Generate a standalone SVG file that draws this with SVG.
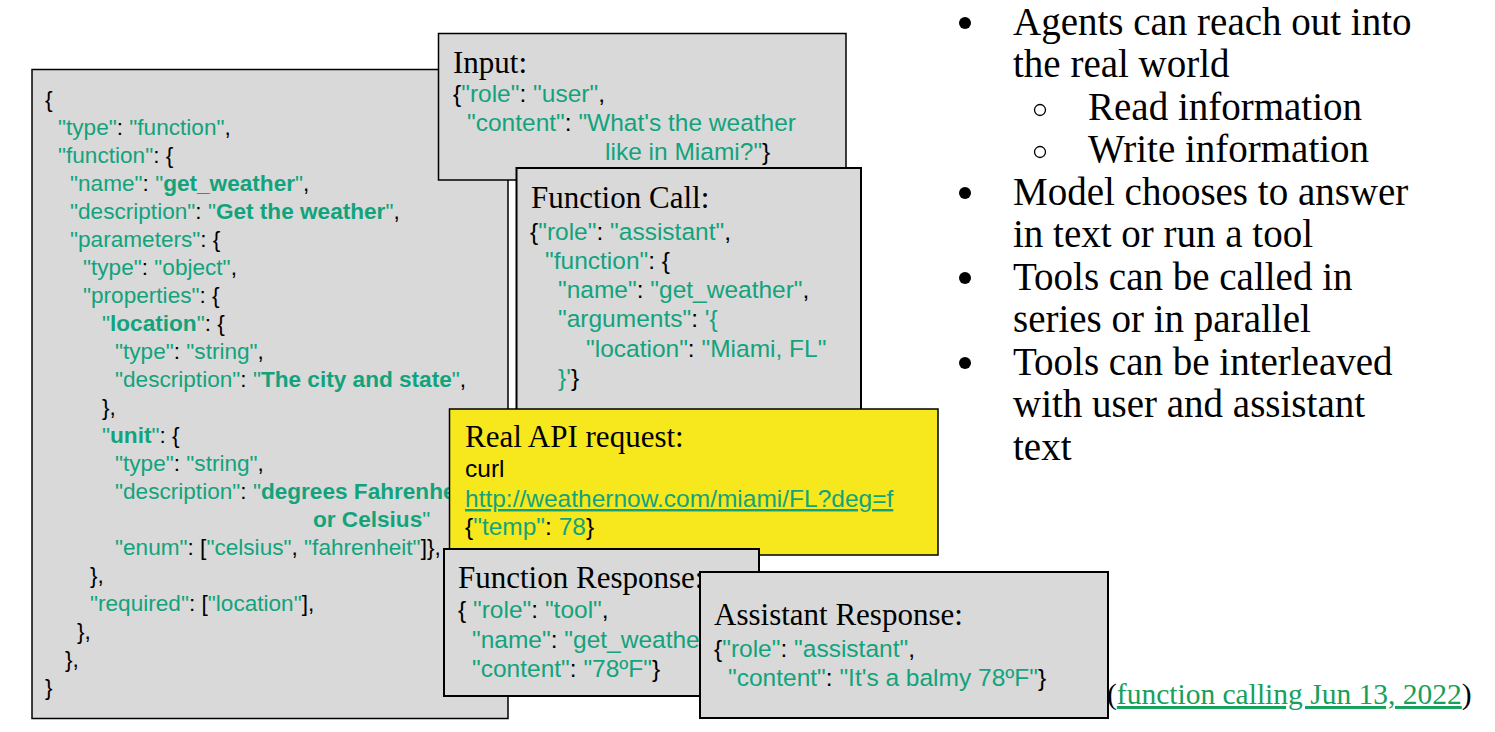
<svg xmlns="http://www.w3.org/2000/svg" width="1495" height="732" viewBox="0 0 1495 732">
<style>
.box{fill:#d9d9d9;stroke:#000;stroke-width:1.5}
.thick{stroke-width:2}
.yellow{fill:#f7e71d;stroke:#000;stroke-width:1.5}
.code{font-family:"Liberation Sans",Arial,sans-serif;fill:#000}
.big{font-size:22.6px}
.sm{font-size:24.5px}
.g{fill:#12a37c}
.b{font-weight:bold}
.title{font-family:"Liberation Serif","Times New Roman",serif;font-size:31px;fill:#000}
.bul{font-family:"Liberation Serif","Times New Roman",serif;font-size:39px;fill:#000}
.foot{font-family:"Liberation Serif","Times New Roman",serif;font-size:29.5px;fill:#000}
.link{fill:#16a05a;text-decoration:underline}
</style>
<defs>
<clipPath id="frClip"><rect x="444" y="549" width="256" height="147"/></clipPath>
</defs>
<rect width="1495" height="732" fill="#fff"/>

<g id="schema">
<rect class="box" x="32" y="69.5" width="476" height="649"/>
<text class="code big">
<tspan x="45" y="107">{</tspan>
<tspan x="58" y="135"><tspan class="g">"type"</tspan>: <tspan class="g">"function"</tspan>,</tspan>
<tspan x="58" y="163"><tspan class="g">"function"</tspan>: {</tspan>
<tspan x="70" y="191"><tspan class="g">"name"</tspan>: <tspan class="g">"<tspan class="b">get_weather</tspan>"</tspan>,</tspan>
<tspan x="70" y="219"><tspan class="g">"description"</tspan>: <tspan class="g">"<tspan class="b">Get the weather</tspan>"</tspan>,</tspan>
<tspan x="70" y="247"><tspan class="g">"parameters"</tspan>: {</tspan>
<tspan x="83" y="275"><tspan class="g">"type"</tspan>: <tspan class="g">"object"</tspan>,</tspan>
<tspan x="83" y="303"><tspan class="g">"properties"</tspan>: {</tspan>
<tspan x="102" y="331"><tspan class="g">"<tspan class="b">location</tspan>"</tspan>: {</tspan>
<tspan x="115" y="359"><tspan class="g">"type"</tspan>: <tspan class="g">"string"</tspan>,</tspan>
<tspan x="115" y="387"><tspan class="g">"description"</tspan>: <tspan class="g">"<tspan class="b">The city and state</tspan>"</tspan>,</tspan>
<tspan x="102" y="415">},</tspan>
<tspan x="102" y="443"><tspan class="g">"<tspan class="b">unit</tspan>"</tspan>: {</tspan>
<tspan x="115" y="471"><tspan class="g">"type"</tspan>: <tspan class="g">"string"</tspan>,</tspan>
<tspan x="115" y="499"><tspan class="g">"description"</tspan>: <tspan class="g">"<tspan class="b">degrees Fahrenheit</tspan></tspan></tspan>
<tspan x="313" y="527" class="g"><tspan class="b">or Celsius</tspan>"</tspan>
<tspan x="115" y="555"><tspan class="g">"enum"</tspan>: [<tspan class="g">"celsius"</tspan>, <tspan class="g">"fahrenheit"</tspan>]},</tspan>
<tspan x="90" y="583">},</tspan>
<tspan x="90" y="611"><tspan class="g">"required"</tspan>: [<tspan class="g">"location"</tspan>],</tspan>
<tspan x="77" y="639">},</tspan>
<tspan x="65" y="667">},</tspan>
<tspan x="45" y="695">}</tspan>
</text>
</g>

<g id="input">
<rect class="box" x="438.5" y="33.5" width="407.5" height="146.5"/>
<text class="title" x="453" y="73">Input:</text>
<text class="code sm">
<tspan x="453" y="102">{<tspan class="g">"role"</tspan>: <tspan class="g">"user"</tspan>,</tspan>
<tspan x="467" y="131"><tspan class="g">"content"</tspan>: <tspan class="g">"What's the weather</tspan></tspan>
<tspan x="605" y="160"><tspan class="g">like in Miami?"</tspan>}</tspan>
</text>
</g>

<g id="function-call">
<rect class="box thick" x="516.5" y="168" width="344.5" height="246"/>
<text class="title" x="531" y="208">Function Call:</text>
<text class="code sm">
<tspan x="530" y="240">{<tspan class="g">"role"</tspan>: <tspan class="g">"assistant"</tspan>,</tspan>
<tspan x="545" y="269"><tspan class="g">"function"</tspan>: {</tspan>
<tspan x="558" y="298"><tspan class="g">"name"</tspan>: <tspan class="g">"get_weather"</tspan>,</tspan>
<tspan x="558" y="327"><tspan class="g">"arguments"</tspan>: <tspan class="g">'{</tspan></tspan>
<tspan x="586" y="357"><tspan class="g">"location"</tspan>: <tspan class="g">"Miami, FL"</tspan></tspan>
<tspan x="558" y="386"><tspan class="g">}'</tspan>}</tspan>
</text>
</g>

<g id="api-request">
<rect class="yellow" x="449.5" y="409" width="488.5" height="146"/>
<text class="title" x="465" y="447">Real API request:</text>
<text class="code sm">
<tspan x="465" y="477">curl</tspan>
<tspan x="465" y="507" class="g" text-decoration="underline">http://weathernow.com/miami/FL?deg=f</tspan>
<tspan x="465" y="535">{<tspan class="g">"temp"</tspan>: <tspan class="g">78</tspan>}</tspan>
</text>
</g>

<g id="function-response">
<rect class="box thick" x="444" y="549" width="315" height="147"/>
<g clip-path="url(#frClip)">
<text class="title" x="458" y="588">Function Response:</text>
<text class="code sm">
<tspan x="458" y="618">{ <tspan class="g">"role"</tspan>: <tspan class="g">"tool"</tspan>,</tspan>
<tspan x="472" y="648"><tspan class="g">"name"</tspan>: <tspan class="g">"get_weather"</tspan>,</tspan>
<tspan x="472" y="677"><tspan class="g">"content"</tspan>: <tspan class="g">"78ºF"</tspan>}</tspan>
</text>
</g>
</g>

<g id="assistant-response">
<rect class="box thick" x="700" y="572" width="408" height="146"/>
<text class="title" x="714" y="625">Assistant Response:</text>
<text class="code sm">
<tspan x="714" y="657">{<tspan class="g">"role"</tspan>: <tspan class="g">"assistant"</tspan>,</tspan>
<tspan x="728" y="686"><tspan class="g">"content"</tspan>: <tspan class="g">"It's a balmy 78ºF"</tspan>}</tspan>
</text>
</g>

<g id="connectors"></g>

<g id="citation">
<text class="foot" x="1107" y="704">(<tspan class="link">function calling Jun 13, 2022</tspan>)</text>
</g>

<g id="bullets">
<circle cx="965" cy="23" r="6" fill="#000"/>
<circle cx="965" cy="193" r="6" fill="#000"/>
<circle cx="965" cy="278" r="6" fill="#000"/>
<circle cx="965" cy="363" r="6" fill="#000"/>
<circle cx="1040" cy="110" r="5.5" fill="none" stroke="#000" stroke-width="1.3"/>
<circle cx="1040" cy="152" r="5.5" fill="none" stroke="#000" stroke-width="1.3"/>
<text class="bul">
<tspan x="1013" y="34.5">Agents can reach out into</tspan>
<tspan x="1013" y="77">the real world</tspan>
<tspan x="1088" y="119.5">Read information</tspan>
<tspan x="1088" y="162">Write information</tspan>
<tspan x="1013" y="204.5">Model chooses to answer</tspan>
<tspan x="1013" y="247">in text or run a tool</tspan>
<tspan x="1013" y="289.5">Tools can be called in</tspan>
<tspan x="1013" y="332">series or in parallel</tspan>
<tspan x="1013" y="374.5">Tools can be interleaved</tspan>
<tspan x="1013" y="417">with user and assistant</tspan>
<tspan x="1013" y="459.5">text</tspan>
</text>
</g>
</svg>
